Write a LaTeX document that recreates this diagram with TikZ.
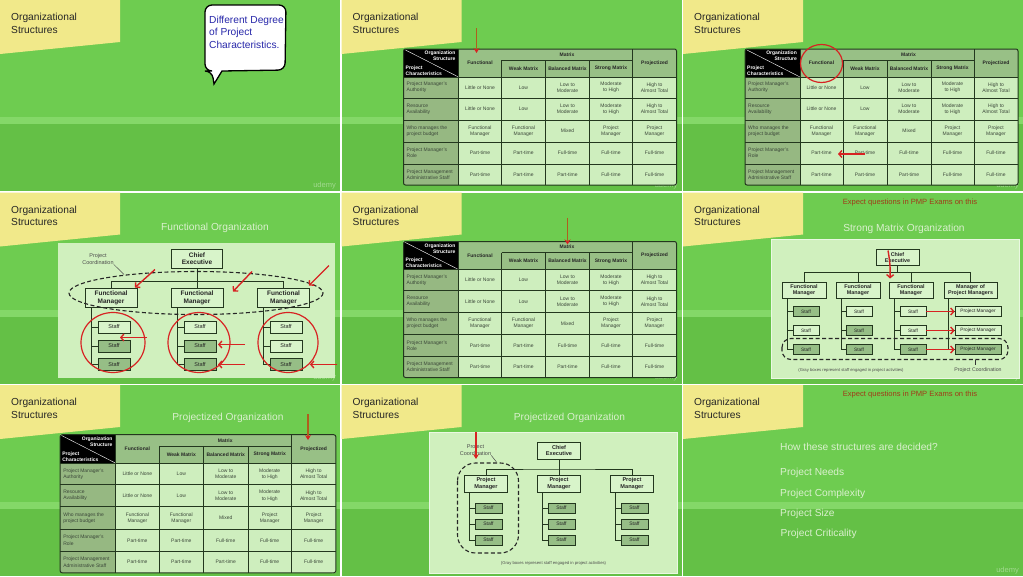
\documentclass[tikz,border=0pt]{standalone}
\usepackage{fontspec}
\setmainfont{Liberation Sans}
\usetikzlibrary{arrows.meta,calc}
\definecolor{bga}{RGB}{110,204,80}
\definecolor{bgb}{RGB}{100,192,70}
\definecolor{bgstripe}{RGB}{132,216,104}
\definecolor{notey}{RGB}{241,233,138}
\definecolor{tgrid}{RGB}{35,55,30}
\definecolor{thead}{RGB}{152,192,134}
\definecolor{tcell}{RGB}{206,238,190}
\definecolor{tfirst}{RGB}{150,184,130}
\definecolor{ttext}{RGB}{60,72,58}
\definecolor{chartbg}{RGB}{208,240,190}
\definecolor{boxfill}{RGB}{216,244,202}
\definecolor{grayfill}{RGB}{150,190,134}
\definecolor{anno}{RGB}{215,35,35}
\definecolor{brownline}{RGB}{175,95,30}
\definecolor{titlec}{RGB}{218,240,206}
\definecolor{expect}{RGB}{160,60,25}
\definecolor{bubtext}{RGB}{40,40,170}
\tikzset{
  notetitle/.style={font=\fontsize{10.2}{12.6}\selectfont, text=black!85, align=left, inner sep=0pt},
  slidetitle/.style={font=\fontsize{10.2}{12}\selectfont, text=titlec, inner sep=0pt},
  expecttext/.style={font=\fontsize{7.6}{9}\selectfont, text=expect, inner sep=0pt},
  thtext/.style={font=\bfseries\fontsize{5}{5.9}\selectfont, text=black!85, align=center, inner sep=0pt},
  tdtext/.style={font=\fontsize{5}{6.2}\selectfont, text=ttext, align=center, inner sep=0pt},
  udtext/.style={font=\fontsize{7.5}{8}\selectfont, text=white, opacity=0.4, inner sep=0pt},
  orgbox/.style={draw=tgrid, fill=boxfill, line width=0.8pt, align=center, inner sep=0pt, text=black!85},
  fmfour/.style={font=\bfseries\fontsize{6.5}{7.5}\selectfont, minimum width=52pt, minimum height=19pt},
  stafffour/.style={font=\fontsize{5.5}{6}\selectfont, minimum width=32pt, minimum height=12pt},
  fmsix/.style={font=\bfseries\fontsize{5.4}{6.2}\selectfont, minimum width=44pt, minimum height=16pt},
  staffsix/.style={font=\fontsize{4.8}{5.5}\selectfont, minimum width=26pt, minimum height=10pt},
  pmsix/.style={font=\fontsize{4.8}{5.5}\selectfont, minimum width=46pt, minimum height=10pt},
  fmeight/.style={font=\bfseries\fontsize{5.6}{6.4}\selectfont, minimum width=43pt, minimum height=17pt},
  staffeight/.style={font=\fontsize{5}{5.5}\selectfont, minimum width=27pt, minimum height=10pt},
  conn/.style={draw=tgrid, line width=0.8pt},
  annoarrow/.style={draw=anno, line width=1.4pt, -{Straight Barb[length=3pt,width=7pt]}},
  annoline/.style={draw=anno, line width=1.2pt},
  pointer/.style={draw=brownline, line width=1.3pt, -{Stealth[color=anno,length=5pt,width=6pt]}},
  coordline/.style={draw=black!85, line width=1.1pt, dash pattern=on 4pt off 2.5pt},
  smalltext/.style={font=\fontsize{5.5}{6.5}\selectfont, text=black!70, inner sep=0pt, align=center},
  captext/.style={font=\fontsize{4.2}{5}\selectfont, text=black!70, inner sep=0pt},
  listtext/.style={font=\fontsize{10.2}{12}\selectfont, text=titlec, inner sep=0pt, anchor=base west},
}
\newcommand\panelbg[1]{%
  \fill[bga] (0,0) rectangle (340,117);
  \fill[bgstripe] (0,117) rectangle (340,124);
  \fill[bgb] (0,124) rectangle (340,191);
  \fill[notey] (0,0) -- (120,0) -- (120,42) -- (0,54) -- cycle;
  \node[notetitle, anchor=north west] (#1-nt) at (11,13.3) {Organizational\\Structures};
  \node[udtext, anchor=base east] (#1-ud) at (336,187) {udemy};
}
\newcommand\ptable[1]{%
  \fill[tcell] (62,77) rectangle (335,185);
  \fill[thead] (117,49) rectangle (335,77);
  \fill[tfirst] (62,77) rectangle (117,185);
  \fill[black] (62,49) rectangle (117,77);
  \draw[white, line width=0.4pt] (62,49) -- (117,77);
  \draw[tgrid, line width=0.7pt]
    (117,49) -- (117,185) (291,49) -- (291,185)
    (160,60) -- (160,185) (204,60) -- (204,185) (248,60) -- (248,185)
    (160,60) -- (291,60)
    (62,77) -- (335,77) (62,98) -- (335,98) (62,120) -- (335,120)
    (62,142) -- (335,142) (62,164) -- (335,164);
  \draw[tgrid, line width=1pt, rounded corners=2pt] (62,49) rectangle (335,185);
  \node[thtext, anchor=north east, align=right, text=white] (#1-os) at (114,51) {Organization\\Structure};
  \node[thtext, anchor=south west, align=left, text=white] (#1-pc) at (64,75.5) {Project\\Characteristics};
  \node[thtext] (#1-h1) at (138.5,63) {Functional};
  \node[thtext] (#1-hm) at (225.5,54.5) {Matrix};
  \node[thtext] (#1-h2) at (182,68.5) {Weak Matrix};
  \node[thtext] (#1-h3) at (226,68.5) {Balanced Matrix};
  \node[thtext] (#1-h4) at (269.5,68.5) {Strong Matrix};
  \node[thtext] (#1-h5) at (313,63) {Projectized};
  \foreach \yy/\lab/\qa/\qb/\qc/\qd/\qe [count=\i] in {
    87.5/{Project Manager's\\Authority}/{Little or None}/{Low}/{Low to\\Moderate}/{Moderate\\to High}/{High to\\Almost Total},
    109/{Resource\\Availability}/{Little or None}/{Low}/{Low to\\Moderate}/{Moderate\\to High}/{High to\\Almost Total},
    131/{Who manages the\\project budget}/{Functional\\Manager}/{Functional\\Manager}/{Mixed}/{Project\\Manager}/{Project\\Manager},
    153/{Project Manager's\\Role}/{Part-time}/{Part-time}/{Full-time}/{Full-time}/{Full-time},
    174.5/{Project Management\\Administrative Staff}/{Part-time}/{Part-time}/{Part-time}/{Full-time}/{Full-time}}{
    \node[tdtext, anchor=west, align=left] (#1-r\i) at (65,\yy) {\lab};
    \node[tdtext] (#1-r\i a) at (138.5,\yy) {\qa};
    \node[tdtext] (#1-r\i b) at (182,\yy) {\qb};
    \node[tdtext] (#1-r\i c) at (226,\yy) {\qc};
    \node[tdtext] (#1-r\i d) at (269.5,\yy) {\qd};
    \node[tdtext] (#1-r\i e) at (313,\yy) {\qe};
  }
}
\begin{document}
\begin{tikzpicture}[x=1pt,y=-1pt]
\fill[white] (0,0) rectangle (1023,576);
\useasboundingbox (0,0) rectangle (1023,576);
% ---------------- panel 1
\begin{scope}
  \panelbg{p1}
  \draw[black, line width=1.3pt, fill=white, rounded corners=7pt]
    (212,71) [sharp corners] -- (214,84) -- (222,71) [rounded corners=7pt] -- (285,70) -- (286,5) -- (205,5) -- (205,71) -- cycle;
  \node[anchor=north west, align=left, font=\fontsize{10.2}{12.5}\selectfont, text=bubtext, inner sep=0pt] (p1-bt) at (209,15.6) {Different Degree\\of Project\\Characteristics.};
\end{scope}
% ---------------- panel 2
\begin{scope}[shift={(341.5,0)}]
  \panelbg{p2}
  \ptable{p2}
  \draw[pointer] (135,28) -- (135,53);
\end{scope}
% ---------------- panel 3
\begin{scope}[shift={(683,0)}]
  \panelbg{p3}
  \ptable{p3}
  \draw[annoline] (138.5,63.5) ellipse [x radius=21, y radius=19];
  \draw[annoarrow] (182,154) -- (155,154);
\end{scope}
% ---------------- panel 4
\begin{scope}[shift={(0,192.5)}]
  \panelbg{p4}
  \node[slidetitle, anchor=base] (p4-tt) at (215,37.7) {Functional Organization};
  \fill[chartbg] (58,50) rectangle (335,185);
  \node[orgbox, fmfour, minimum width=51pt] (p4-ce) at (197,66) {Chief\\Executive};
  \foreach \n/\x in {1/111,2/197,3/283.5}{
    \node[orgbox, fmfour] (p4-f\n) at (\x,105.5) {Functional\\Manager};
  }
  \coordinate (p4-bus) at (197,89);
  \draw[conn] (p4-ce.south) -- (p4-bus);
  \draw[conn] (p4-f1.north) |- (p4-bus) -| (p4-f3.north);
  \draw[conn] (p4-bus) -- (p4-f2.north);
  \foreach \c/\x/\fa/\fb/\fc in {1/114/boxfill/grayfill/grayfill, 2/200/boxfill/grayfill/grayfill, 3/286/boxfill/boxfill/grayfill}{
    \node[orgbox, stafffour, fill=\fa] (p4-s\c1) at (\x,134.5) {Staff};
    \node[orgbox, stafffour, fill=\fb] (p4-s\c2) at (\x,153.5) {Staff};
    \node[orgbox, stafffour, fill=\fc] (p4-s\c3) at (\x,172) {Staff};
    \coordinate (p4-a\c) at ($(p4-f\c.south west)+(6.5,0)$);
    \draw[conn] (p4-a\c) |- (p4-s\c3.west);
    \draw[conn] (p4-a\c |- p4-s\c1.west) -- (p4-s\c1.west);
    \draw[conn] (p4-a\c |- p4-s\c2.west) -- (p4-s\c2.west);
  }
  \draw[coordline] (196,100.5) ellipse [x radius=127, y radius=21.5];
  \node[smalltext, anchor=north] (p4-pcl) at (98,61) {Project\\Coordination};
  \coordinate (p4-pce) at (124,82);
  \draw[black!70, line width=0.5pt] (p4-pcl.south east) -- (p4-pce);
  \draw[annoline] (113,150) ellipse [x radius=32, y radius=30];
  \draw[annoline] (199,150) ellipse [x radius=31, y radius=30];
  \draw[annoline] (288,150) ellipse [x radius=30, y radius=30];
  \draw[annoarrow] (155,77) -- (135,95);
  \draw[annoarrow] (252,79) -- (233,99);
  \draw[annoarrow] (329,73) -- (309,93);
  \draw[annoarrow] (147,145) -- (120,145);
  \draw[annoarrow] (245,152) -- (218,152);
  \draw[annoarrow] (245,172) -- (218,172);
  \draw[annoarrow] (337,172) -- (310,172);
\end{scope}
% ---------------- panel 5
\begin{scope}[shift={(341.5,192.5)}]
  \panelbg{p5}
  \ptable{p5}
  \draw[pointer] (226,25) -- (226,52);
\end{scope}
% ---------------- panel 6
\begin{scope}[shift={(683,192.5)}]
  \panelbg{p6}
  \node[expecttext, anchor=base] (p6-ex) at (227,11.7) {Expect questions in PMP Exams on this};
  \node[slidetitle, anchor=base] (p6-tt) at (221,39.3) {Strong Matrix Organization};
  \fill[chartbg] (88,47) rectangle (336,186);
  \draw[white!55!chartbg, line width=1pt] (88,47) rectangle (336,186);
  \node[orgbox, fmsix, minimum width=43pt] (p6-ce) at (214.5,65) {Chief\\Executive};
  \foreach \n/\x in {1/121,2/175,3/228}{
    \node[orgbox, fmsix] (p6-f\n) at (\x,98) {Functional\\Manager};
  }
  \node[orgbox, fmsix, minimum width=53pt] (p6-f4) at (287.5,98) {Manager of\\Project Managers};
  \coordinate (p6-bus) at (214.5,80);
  \draw[conn] (p6-ce.south) -- (p6-bus);
  \draw[conn] (p6-f1.north) |- (p6-bus) -| (p6-f4.north);
  \draw[conn] (p6-f2.north) -- (p6-f2.north |- p6-bus);
  \draw[conn] (p6-f3.north) -- (p6-f3.north |- p6-bus);
  \foreach \c/\x/\fa/\fb/\fc in {1/123/grayfill/boxfill/grayfill, 2/176/boxfill/grayfill/grayfill, 3/230/boxfill/boxfill/grayfill}{
    \node[orgbox, staffsix, fill=\fa] (p6-s\c1) at (\x,119) {Staff};
    \node[orgbox, staffsix, fill=\fb] (p6-s\c2) at (\x,138) {Staff};
    \node[orgbox, staffsix, fill=\fc] (p6-s\c3) at (\x,157) {Staff};
    \coordinate (p6-a\c) at ($(p6-f\c.south west)+(6,0)$);
    \draw[conn] (p6-a\c) |- (p6-s\c3.west);
    \draw[conn] (p6-a\c |- p6-s\c1.west) -- (p6-s\c1.west);
    \draw[conn] (p6-a\c |- p6-s\c2.west) -- (p6-s\c2.west);
  }
  \foreach \r/\y/\f in {1/119/boxfill,2/138/boxfill,3/157/grayfill}{
    \node[orgbox, pmsix, fill=\f] (p6-p\r) at (295,\y) {Project Manager};
  }
  \coordinate (p6-a4) at ($(p6-f4.south west)+(5,0)$);
  \draw[conn] (p6-a4) |- (p6-p3.west);
  \draw[conn] (p6-a4 |- p6-p1.west) -- (p6-p1.west);
  \draw[conn] (p6-a4 |- p6-p2.west) -- (p6-p2.west);
  \draw[coordline, rounded corners=9pt] (99,146) rectangle (325,167);
  \node[smalltext, font=\fontsize{5.2}{6}\selectfont, anchor=base] (p6-pcl) at (295,179) {Project Coordination};
  \coordinate (p6-tk) at (292,167.5);
  \draw[black!80, line width=0.6pt] (p6-tk) -- ++(0,4.5);
  \node[captext, anchor=base] (p6-cap) at (168,179) {(Gray boxes represent staff engaged in project activities)};
  \draw[annoarrow] (205,58) to[bend left=6] (207,86);
  \foreach \r in {1,2,3}{
    \draw[annoarrow] (p6-s3\r.east) -- (p6-p\r.west);
  }
\end{scope}
% ---------------- panel 7
\begin{scope}[shift={(0,385)}]
  \panelbg{p7}
  \node[slidetitle, anchor=base] (p7-tt) at (228,35.7) {Projectized Organization};
  \begin{scope}[shift={(-2.5,0)}, xscale=1.01, yscale=1.015]
    \ptable{p7}
  \end{scope}
  \draw[pointer] (308,29) -- (308,55);
\end{scope}
% ---------------- panel 8
\begin{scope}[shift={(341.5,385)}]
  \panelbg{p8}
  \node[slidetitle, anchor=base] (p8-tt) at (228,35.7) {Projectized Organization};
  \fill[chartbg] (88,47) rectangle (336,188);
  \draw[white!55!chartbg, line width=1pt] (88,47) rectangle (336,188);
  \node[orgbox, fmeight] (p8-ce) at (217.5,65.5) {Chief\\Executive};
  \coordinate (p8-bus) at (217.5,84);
  \foreach \n/\x in {1/144.5,2/217.5,3/290.5}{
    \node[orgbox, fmeight] (p8-f\n) at (\x,98.5) {Project\\Manager};
    \foreach \r/\y in {1/123,2/139,3/155}{
      \node[orgbox, staffeight, fill=grayfill] (p8-s\n\r) at (\x+2.5,\y) {Staff};
    }
    \coordinate (p8-a\n) at ($(p8-f\n.south west)+(5,0)$);
    \draw[conn] (p8-a\n) |- (p8-s\n3.west);
    \draw[conn] (p8-a\n |- p8-s\n1.west) -- (p8-s\n1.west);
    \draw[conn] (p8-a\n |- p8-s\n2.west) -- (p8-s\n2.west);
  }
  \draw[conn] (p8-ce.south) -- (p8-bus);
  \draw[conn] (p8-f1.north) |- (p8-bus) -| (p8-f3.north);
  \draw[conn] (p8-bus) -- (p8-f2.north);
  \draw[coordline, rounded corners=18pt] (116,78) rectangle (177,168);
  \node[smalltext, anchor=north] (p8-pcl) at (134,59.5) {Project\\Coordination};
  \coordinate (p8-pce) at (155,77);
  \draw[black!70, line width=0.5pt] (p8-pcl.south east) -- (p8-pce);
  \node[captext, anchor=base] (p8-cap) at (212,179.5) {(Gray boxes represent staff engaged in project activities)};
  \draw[pointer, draw=anno] (134.5,47) -- (134.5,74);
\end{scope}
% ---------------- panel 9
\begin{scope}[shift={(683,385)}]
  \panelbg{p9}
  \node[expecttext, anchor=base] (p9-ex) at (227,11.7) {Expect questions in PMP Exams on this};
  \node[listtext] (p9-q) at (97,65) {How these structures are decided?};
  \node[listtext] (p9-l1) at (97,90.7) {Project Needs};
  \node[listtext] (p9-l2) at (97,111) {Project Complexity};
  \node[listtext] (p9-l3) at (97,131) {Project Size};
  \node[listtext] (p9-l4) at (97.5,151.7) {Project Criticality};
\end{scope}
\end{tikzpicture}
\end{document}
